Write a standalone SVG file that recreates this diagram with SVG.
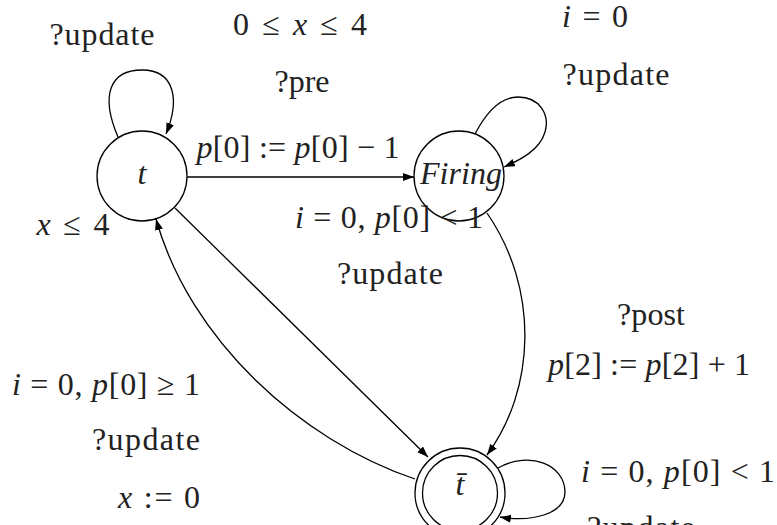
<svg xmlns="http://www.w3.org/2000/svg" width="777" height="525" viewBox="0 0 777 525">
<defs>
<marker id="ah" markerUnits="userSpaceOnUse" markerWidth="12" markerHeight="10" refX="11" refY="4" orient="auto">
<path d="M0,0 L11,4 L0,8 Z" fill="#000"/>
</marker>
<style>
.n{fill:#fff;stroke:#000;stroke-width:1.3}
.e{fill:none;stroke:#000;stroke-width:1.3;marker-end:url(#ah)}
text{font-family:"Liberation Serif","DejaVu Serif",serif;font-size:32px;fill:#222}
.c{text-anchor:middle}
.r{text-anchor:end}
.m{font-style:italic}
</style>
</defs>
<g id="connectors">
<path class="e" d="M118,137 C100,95 110,70 142,70 C175,70 180,100 166,134"/>
<path class="e" d="M187,177 L414,177"/>
<path class="e" d="M475,134 C490,105 505,97 518,97 C540,97 550,115 545,132 C540,150 520,160 504,167"/>
<path class="e" d="M487,213 C540,290 535,390 487,455"/>
<path class="e" d="M175,208 L428,457"/>
<path class="e" d="M415,479 C300,440 190,340 156,219"/>
<path class="e" d="M498,468 C530,450 565,465 565,492 C565,515 530,522 500,517"/>
</g>
<g id="node-t">
<circle class="n" cx="142" cy="176" r="45"/>
<text class="c m" x="142" y="184">t</text>
</g>
<g id="node-firing">
<circle class="n" cx="459" cy="176" r="45"/>
<text class="c m" x="461" y="184" textLength="82" lengthAdjust="spacing">Firing</text>
</g>
<g id="node-tbar">
<circle class="n" cx="460" cy="493" r="45"/>
<circle class="n" cx="460" cy="493" r="37.5"/>
<text class="c m" x="460" y="495">t̄</text>
</g>
<g id="labels">
<text class="c" x="102" y="45" textLength="105" lengthAdjust="spacing">?update</text>
<text class="c" x="300" y="35" textLength="134" lengthAdjust="spacing">0 ≤ <tspan class="m">x</tspan> ≤ 4</text>
<text class="c" x="302" y="92" textLength="55" lengthAdjust="spacing">?pre</text>
<text class="c" x="298" y="158" textLength="203" lengthAdjust="spacing"><tspan class="m">p</tspan>[0] := <tspan class="m">p</tspan>[0] − 1</text>
<text class="c" x="73" y="235" textLength="73" lengthAdjust="spacing"><tspan class="m">x</tspan> ≤ 4</text>
<text class="c" x="389" y="228" textLength="188" lengthAdjust="spacing"><tspan class="m">i</tspan> = 0, <tspan class="m">p</tspan>[0] &lt; 1</text>
<text class="c" x="390" y="284" textLength="106" lengthAdjust="spacing">?update</text>
<text class="c" x="595" y="27" textLength="66" lengthAdjust="spacing"><tspan class="m">i</tspan> = 0</text>
<text class="c" x="616" y="85" textLength="107" lengthAdjust="spacing">?update</text>
<text class="c" x="651" y="325" textLength="68" lengthAdjust="spacing">?post</text>
<text class="c" x="649" y="375" textLength="202" lengthAdjust="spacing"><tspan class="m">p</tspan>[2] := <tspan class="m">p</tspan>[2] + 1</text>
<text class="r" x="200" y="395" textLength="188" lengthAdjust="spacing"><tspan class="m">i</tspan> = 0, <tspan class="m">p</tspan>[0] ≥ 1</text>
<text class="r" x="200" y="450" textLength="108" lengthAdjust="spacing">?update</text>
<text class="r" x="200" y="508" textLength="82" lengthAdjust="spacing"><tspan class="m">x</tspan> := 0</text>
<text x="581" y="482" textLength="194" lengthAdjust="spacing"><tspan class="m">i</tspan> = 0, <tspan class="m">p</tspan>[0] &lt; 1</text>
<text x="587" y="538" textLength="108" lengthAdjust="spacing">?update</text>
</g>
</svg>
